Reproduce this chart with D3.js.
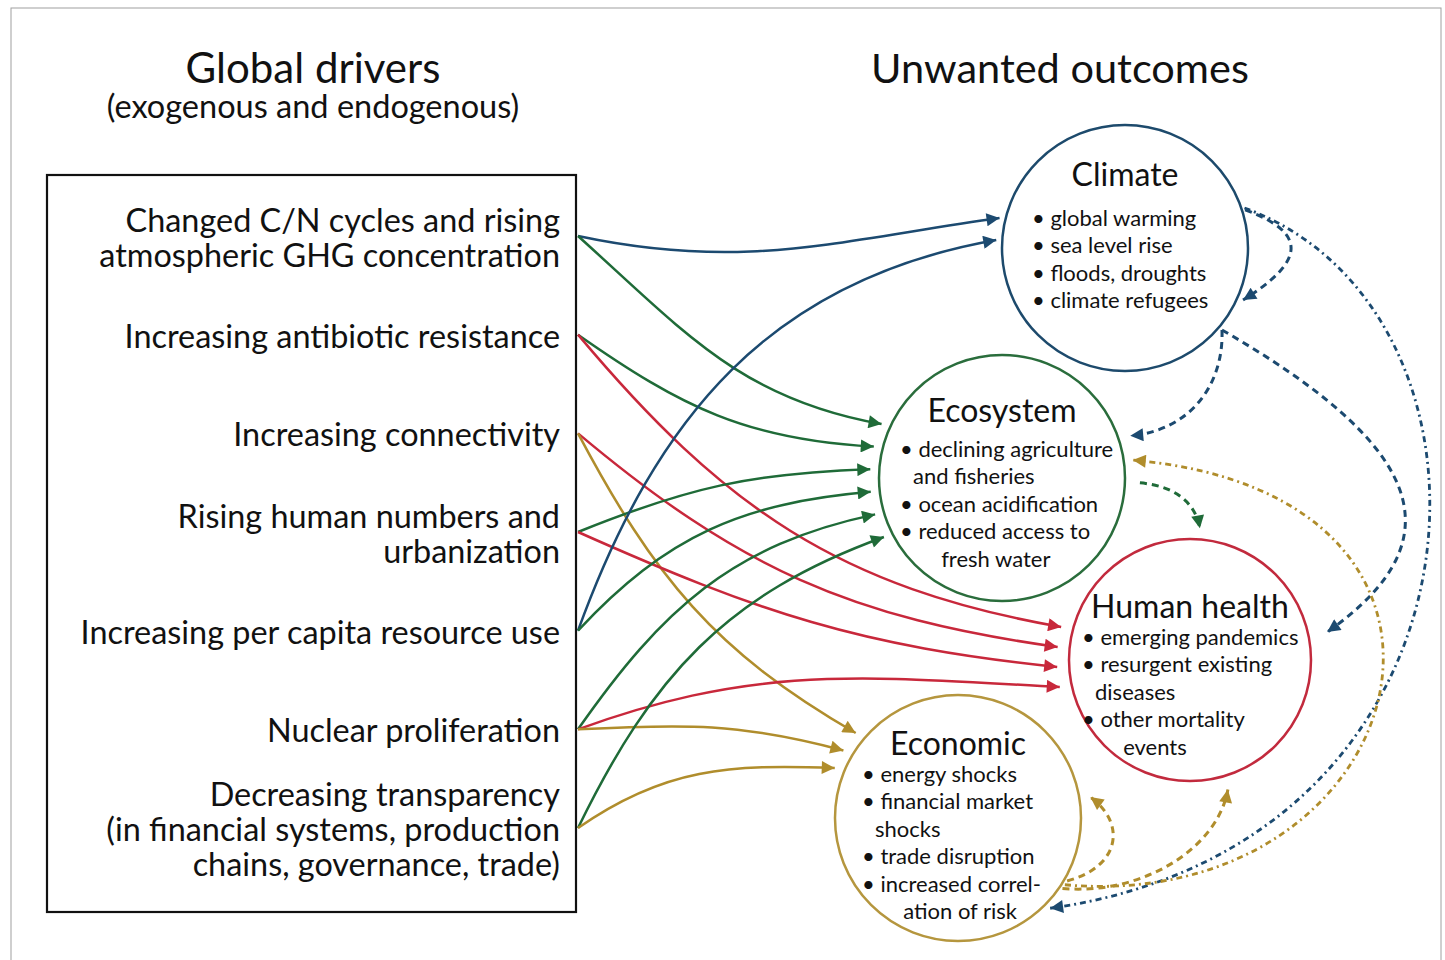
<!DOCTYPE html>
<html lang="en">
<head>
<meta charset="utf-8"/>
<script src="https://d3js.org/d3.v7.min.js"></script>
<style>
  body { margin: 0; background: #fff; }
  svg text { font-family: Lato, "Open Sans", sans-serif; fill: #111; }
</style>
</head>
<body>
<svg id="chart" width="1445" height="960"></svg>
<script>
// --- content ---
const drivers = [
  ["Changed C/N cycles and rising", "atmospheric GHG concentration"],
  ["Increasing antibiotic resistance"],
  ["Increasing connectivity"],
  ["Rising human numbers and", "urbanization"],
  ["Increasing per capita resource use"],
  ["Nuclear proliferation"],
  ["Decreasing transparency", "(in financial systems, production", "chains, governance, trade)"]
];
const outcomeNames = ["Climate", "Ecosystem", "Human health", "Economic"];
const outcomeItems = [
  [["global warming"], ["sea level rise"], ["floods, droughts"], ["climate refugees"]],
  [["declining agriculture", "and fisheries"], ["ocean acidification"],
   ["reduced access to", "\u00a0\u00a0\u00a0\u00a0\u00a0fresh water"]],
  [["emerging pandemics"], ["resurgent existing", "diseases"],
   ["other mortality", "\u00a0\u00a0\u00a0\u00a0\u00a0events"]],
  [["energy shocks"], ["financial market", "shocks"], ["trade disruption"],
   ["increased correl-", "\u00a0\u00a0\u00a0\u00a0\u00a0ation of risk"]]
];
// driver -> outcome
const driverLinks = [[0,0],[0,1],[1,1],[1,2],[2,2],[2,3],[3,1],[3,2],
                     [4,0],[4,1],[5,1],[5,2],[5,3],[6,1],[6,3]];
// outcome -> outcome feedbacks
const feedbacks = [[0,0],[0,1],[0,2],[0,3],[1,2],[3,1],[3,3],[3,2]];

// --- layout / style ---
const colors = ["#1c4a70", "#1f6b38", "#c8283b", "#b08d2c"];
const circleColors = ["#1d4a6c", "#2a6d3c", "#c22a3d", "#b5963e"];
const circles = [
  {cx: 1125, cy: 248, r: 123, title: -62, first: -22, bx: -93,  inlet: [218, 240], R: 129},
  {cx: 1002, cy: 478, r: 123, title: -56, first: -21, bx: -102, inlet: [424, 537], R: 132},
  {cx: 1190, cy: 660, r: 121, title: -42, first: -15, bx: -108, inlet: [627, 687], R: 133},
  {cx: 958,  cy: 818, r: 123, title: -63, first: -36, bx: -96,  inlet: [733, 768], R: 133}
];
// departure / arrival tangent angles (deg) of each driver link
const linkAngles = [[12,-8],[42,10],[35,3],[50,10],[40,8],[62,30],[-22,-2],[24,6],
                    [-70,-10],[-47,-5],[-55,-12],[-20,3],[-3,15],[-64,-20],[-35,2]];
// feedback geometry: start angle, gap, end angle, gap, tangent out, tangent in, handles
const fbShape = [
  {a0: -17.6, g0: 3,  a1: 23.8,  g1: 6,  t0: 20,  t1: 148, L0: 70,  L1: 70},
  {a0: 40.2,  g0: 4,  a1: -18.2, g1: 12, t0: 88,  t1: 175, L0: 55,  L1: 60},
  {a0: 40.2,  g0: 4,  a1: -11.5, g1: 19, t0: 30,  t1: 145, L0: 220, L1: 170},
  {a0: -18.5, g0: 3,  a1: 44.4,  g1: 6,  t0: 20,  t1: 172, L0: 300, L1: 460, dash: "6,4,2,4", w: 2.8},
  {a0: 2,     g0: 15, a1: -85.7, g1: 11, t0: 5,   t1: 80,  L0: 30,  L1: 30},
  {a0: 32,    g0: 3,  a1: -7.8,  g1: 9,  t0: 5,   t1: 185, L0: 350, L1: 400, dash: "6,4,2,4", w: 2.8},
  {a0: 30,    g0: 3,  a1: -9,    g1: 11, t0: -15, t1: 216, L0: 55,  L1: 45},
  {a0: 34,    g0: 3,  a1: 73.7,  g1: 14, t0: 5,   t1: -80, L0: 80,  L1: 60}
];

const svg = d3.select("#chart");
const rad = d => d * Math.PI / 180;

// outer frame
svg.append("rect").attr("x", 11).attr("y", 8).attr("width", 1430).attr("height", 970)
  .attr("fill", "none").attr("stroke", "#a0a0a0").attr("stroke-width", 1);

// arrow markers
const defs = svg.append("defs");
colors.forEach((c, i) => {
  [["solid", 18, 13], ["dash", 16, 13]].forEach(([k, w, h]) => {
    defs.append("marker")
      .attr("id", `m-${k}-${i}`)
      .attr("viewBox", "0 0 10 10").attr("refX", 10).attr("refY", 5)
      .attr("markerUnits", "userSpaceOnUse")
      .attr("markerWidth", w).attr("markerHeight", h)
      .attr("orient", "auto")
      .append("path").attr("d", "M0,0L10,5L0,10Z").attr("fill", c);
  });
});

// titles
svg.append("text").attr("x", 313).attr("y", 83).attr("text-anchor", "middle")
  .attr("font-size", 42).text("Global drivers");
svg.append("text").attr("x", 313).attr("y", 118).attr("text-anchor", "middle")
  .attr("font-size", 32.5).text("(exogenous and endogenous)");
svg.append("text").attr("x", 1060).attr("y", 83).attr("text-anchor", "middle")
  .attr("font-size", 41.5).text("Unwanted outcomes");

// drivers box
svg.append("rect").attr("x", 47).attr("y", 175).attr("width", 529).attr("height", 737)
  .attr("fill", "none").attr("stroke", "#111").attr("stroke-width", 2.2);

const yDriver = d3.scalePoint().domain(d3.range(drivers.length)).range([236, 828]);
const srcX = 578;

const dg = svg.append("g").selectAll("text").data(drivers).join("text")
  .attr("text-anchor", "end").attr("font-size", 32.4);
dg.selectAll("tspan").data((d, i) => d.map((t, j) => ({t, j, n: d.length, i})))
  .join("tspan")
  .attr("x", 560)
  .attr("y", d => yDriver(d.i) + 13 + (d.j - (d.n - 1) / 2) * 35)
  .text(d => d.t);

// target tips for driver links
const slotCount = outcomeNames.map((_, o) => driverLinks.filter(l => l[1] === o).length);
const slotSeen = outcomeNames.map(() => 0);
const links = driverLinks.map(([s, o], k) => {
  const c = circles[o];
  const slot = slotSeen[o]++;
  const ys = d3.scaleLinear().domain([0, Math.max(1, slotCount[o] - 1)]).range(c.inlet);
  const y1 = ys(slot);
  const dy = y1 - c.cy;
  const x1 = c.cx - Math.sqrt(c.R * c.R - dy * dy);
  return {s, o, x0: srcX, y0: yDriver(s), x1, y1, ang: linkAngles[k]};
});

function curve(x0, y0, x1, y1, t0, t1, L0, L1) {
  const p = d3.path();
  p.moveTo(x0, y0);
  p.bezierCurveTo(x0 + L0 * Math.cos(rad(t0)), y0 + L0 * Math.sin(rad(t0)),
                  x1 - L1 * Math.cos(rad(t1)), y1 - L1 * Math.sin(rad(t1)), x1, y1);
  return p.toString();
}

svg.append("g").selectAll("path").data(links).join("path")
  .attr("d", d => {
    const L = 0.4 * Math.hypot(d.x1 - d.x0, d.y1 - d.y0);
    return curve(d.x0, d.y0, d.x1, d.y1, d.ang[0], d.ang[1], L, L);
  })
  .attr("fill", "none")
  .attr("stroke", d => colors[d.o])
  .attr("stroke-width", 2.5)
  .attr("marker-end", d => `url(#m-solid-${d.o})`);

// feedback arrows
svg.append("g").selectAll("path").data(feedbacks.map((f, i) => ({f, s: fbShape[i]}))).join("path")
  .attr("d", ({f, s}) => {
    const a = circles[f[0]], b = circles[f[1]];
    const x0 = a.cx + (a.r + s.g0) * Math.cos(rad(s.a0));
    const y0 = a.cy + (a.r + s.g0) * Math.sin(rad(s.a0));
    const x1 = b.cx + (b.r + s.g1) * Math.cos(rad(s.a1));
    const y1 = b.cy + (b.r + s.g1) * Math.sin(rad(s.a1));
    return curve(x0, y0, x1, y1, s.t0, s.t1, s.L0, s.L1);
  })
  .attr("fill", "none")
  .attr("stroke", ({f}) => colors[f[0]])
  .attr("stroke-width", ({s}) => s.w || 3)
  .attr("stroke-dasharray", ({s}) => s.dash || "7,5")
  .attr("marker-end", ({f}) => `url(#m-dash-${f[0]})`);

// outcome circles
const og = svg.append("g").selectAll("g").data(circles).join("g");
og.append("circle")
  .attr("cx", d => d.cx).attr("cy", d => d.cy).attr("r", d => d.r)
  .attr("fill", "none")
  .attr("stroke", (d, i) => circleColors[i]).attr("stroke-width", 2.5);
og.append("text")
  .attr("x", d => d.cx).attr("y", d => d.cy + d.title)
  .attr("text-anchor", "middle").attr("font-size", 32)
  .text((d, i) => outcomeNames[i]);

og.each(function(c, i) {
  const g = d3.select(this);
  let line = 0;
  outcomeItems[i].forEach(item => {
    item.forEach((t, j) => {
      const y = c.cy + c.first + line * 27.4;
      g.append("text")
        .attr("x", c.cx + c.bx + (j === 0 ? 0 : 13)).attr("y", y)
        .attr("font-size", 22)
        .text(j === 0 ? "\u2022 " + t : t);
      line++;
    });
  });
});
</script>
</body>
</html>
